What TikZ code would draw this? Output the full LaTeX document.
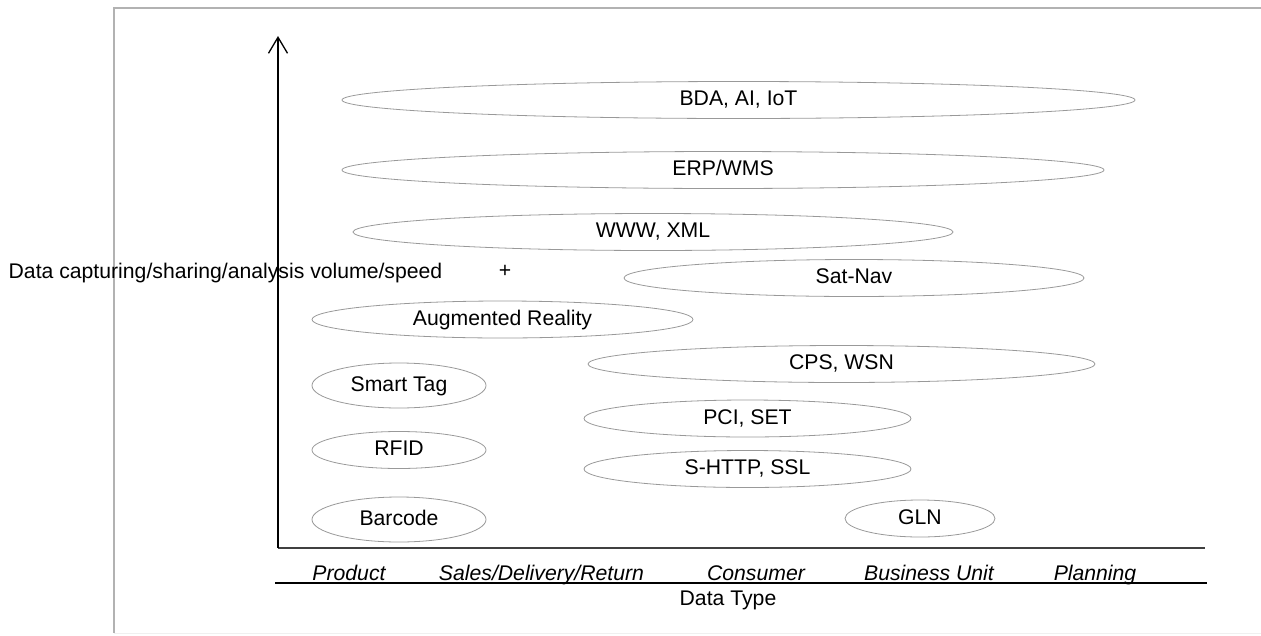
\documentclass[tikz,border=0pt]{standalone}
\usepackage{fontspec}
\setmainfont{Liberation Sans}
\usetikzlibrary{shapes, arrows.meta}

\begin{document}
\begin{tikzpicture}[x=1pt,y=-1pt,
      every node/.style={font=\fontsize{21.2}{25}\selectfont},
      tech node/.style={ellipse,draw=gray!80,line width=0.8pt,inner sep=0pt,
        text height=15pt,text depth=4pt,minimum height=37pt},
      tall node/.style={tech node,minimum height=45pt},
      type node/.style={anchor=base,font=\fontsize{21.2}{25}\selectfont\itshape}]

    \useasboundingbox (0,0) rectangle (1261,635);
    \draw[gray!60,line width=1.5pt] (1262,8) -- (114,8) -- (114,633);
    \draw[gray!12,line width=1pt] (114,633) -- (1262,633);

    \coordinate (origin) at (278,548);
    \coordinate (ytop) at (278,36);
    \coordinate (xend) at (1205,548);
    \coordinate (typeleft) at (275,583);
    \coordinate (typeright) at (1207,583);

    \node[tech node,minimum width=793pt] (bda) at (738.5,100) {BDA, AI, IoT};
    \node[tech node,minimum width=762pt] (erp) at (723,170) {ERP/WMS};
    \node[tech node,minimum width=600pt] (www) at (653,232) {WWW, XML};
    \node[tech node,minimum width=460pt] (satnav) at (854,278) {Sat-Nav};
    \node[tech node,minimum width=381pt] (ar) at (502.5,319.5) {Augmented Reality};
    \node[tech node,minimum width=507pt] (cps) at (841.5,364) {CPS, WSN};
    \node[tall node,minimum width=174pt] (smarttag) at (399,385.5) {Smart Tag};
    \node[tech node,minimum width=327pt] (pci) at (747.5,418.5) {PCI, SET};
    \node[tech node,minimum width=174pt] (rfid) at (399,450) {RFID};
    \node[tech node,minimum width=327pt] (shttp) at (747.5,469) {S-HTTP, SSL};
    \node[tall node,minimum width=174pt] (barcode) at (399,519.5) {Barcode};
    \node[tech node,minimum width=150pt] (gln) at (920,518.5) {GLN};

    \node[anchor=base] (ylabel) at (225.5,278) {Data capturing/sharing/analysis volume/speed};
    \node[anchor=base] (plus) at (505,277) {+};

    \node[type node] (product) at (349,580) {Product};
    \node[type node] (sales) at (541.5,580) {Sales/Delivery/Return};
    \node[type node] (consumer) at (756,580) {Consumer};
    \node[type node] (unit) at (929,580) {Business Unit};
    \node[type node] (planning) at (1095,580) {Planning};
    \node[anchor=base] (xlabel) at (728,605) {Data Type};

    \draw[line width=2.6pt,black!75] (origin) -- (xend);
    \draw[line width=1.3pt,-{Straight Barb[length=16pt,width=19pt]}] (origin) -- (ytop);
    \draw[line width=1.8pt] (typeleft) -- (typeright);
\end{tikzpicture}
\end{document}
